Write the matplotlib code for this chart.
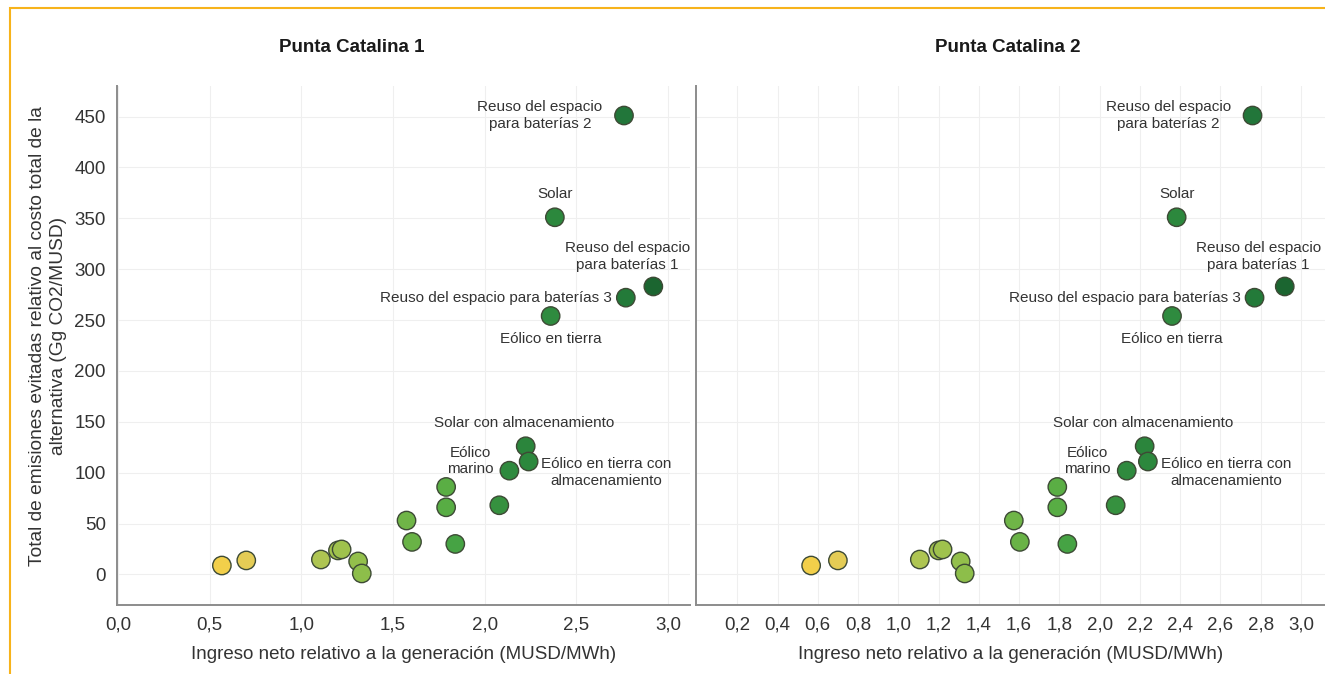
import matplotlib
matplotlib.use("Agg")
import numpy as np
from matplotlib import pyplot as plt
from matplotlib.patches import Rectangle

plt.rcParams['font.family'] = ['Liberation Sans', 'DejaVu Sans']

# ingreso neto (MUSD/MWh) vs emisiones evitadas (Gg CO2/MUSD), one point per alternative
ingreso = [0.567, 0.70, 1.107, 1.20, 1.22, 1.31, 1.33, 1.574, 1.604, 1.79,
           1.79, 1.84, 2.08, 2.135, 2.224, 2.24, 2.36, 2.383, 2.76, 2.77, 2.92]
emisiones = [8.8, 13.8, 14.7, 23.6, 24.6, 12.8, 1.0, 53, 32, 86,
             66, 30, 68, 102, 126, 111, 254, 351, 451, 272, 283]
colores = ['#f2cf4a', '#e4cc55', '#aec552', '#a2c24e', '#9fc24d', '#93c04b', '#8dbe4a',
           '#6fb547', '#69b346', '#5aae44', '#58ad44', '#46a344', '#36913f', '#2f8a3e',
           '#2b853c', '#2c883d', '#2f8b3f', '#2c883d', '#22763a', '#237a39', '#1b6530']

# labelled alternatives: index into the arrays above
etiquetas = {
    18: "Reuso del espacio\npara baterías 2",
    17: "Solar",
    20: "Reuso del espacio\npara baterías 1",
    19: "Reuso del espacio para baterías 3",
    16: "Eólico en tierra",
    14: "Solar con almacenamiento",
    13: "Eólico\nmarino",
    15: "Eólico en tierra con\nalmacenamiento",
}
# text offsets in pixels and horizontal alignment
offsets = {
    18: (-84, 0, 'center'),
    17: (0, 23, 'center'),
    20: (-26, 30, 'center'),
    19: (-14, 0, 'right'),
    16: (0, -23, 'center'),
    14: (-2, 23, 'center'),
    13: (-39, 10, 'center'),
    15: (78, -11, 'center'),
}

titulos = ["Punta Catalina 1", "Punta Catalina 2"]
xticks_panel = [np.arange(0, 3.01, 0.5), np.arange(0.2, 3.01, 0.2)]
yticks = np.arange(0, 451, 50)

W, H = 1325, 674
fig = plt.figure(figsize=(W / 100, H / 100), dpi=100)
fig.patch.set_facecolor('white')

ax1 = fig.add_axes([117 / W, 1 - 605 / H, 573 / W, 519 / H])
ax2 = fig.add_axes([696 / W, 1 - 605 / H, (W - 696) / W, 519 / H])

for i, ax in enumerate([ax1, ax2]):
    ax.set_xlim(-0.005, 3.12)
    ax.set_ylim(-30, 480)
    ax.set_xticks(xticks_panel[i])
    ax.set_xticklabels([f"{t:.1f}".replace('.', ',') for t in xticks_panel[i]])
    ax.set_yticks(yticks)
    if i == 0:
        ax.set_yticklabels([str(t) for t in yticks])
    else:
        ax.set_yticklabels([])
    ax.grid(True, color='#efefef', lw=0.8)
    ax.set_axisbelow(True)
    for s in ['top', 'right']:
        ax.spines[s].set_visible(False)
    for s in ['left', 'bottom']:
        ax.spines[s].set_color('#8c8c8c')
        ax.spines[s].set_linewidth(1.4)
    ax.tick_params(length=0, labelsize=13.5, labelcolor='#333333', pad=8)
    ax.set_xlabel("Ingreso neto relativo a la generación (MUSD/MWh)",
                  fontsize=13.5, color='#333333', labelpad=9)

    ax.scatter(ingreso, emisiones, s=175, c=colores, edgecolors='#3d4a35',
               linewidths=1.0, zorder=3)

    for k, txt in etiquetas.items():
        dx, dy, ha = offsets[k]
        ax.annotate(txt, (ingreso[k], emisiones[k]), xytext=(dx, dy),
                    textcoords='offset pixels', ha=ha, va='center',
                    multialignment='center', fontsize=11, color='#333333',
                    zorder=4)

fig.text(352 / W, 1 - 47 / H, titulos[0], ha='center', va='center',
         fontsize=13.5, fontweight='bold', color='#1a1a1a')
fig.text(1008 / W, 1 - 47 / H, titulos[1], ha='center', va='center',
         fontsize=13.5, fontweight='bold', color='#1a1a1a')

fig.text(48 / W, 1 - 336 / H,
         "Total de emisiones evitadas relativo al costo total de la\n"
         "alternativa (Gg CO2/MUSD)",
         rotation=90, ha='center', va='center', multialignment='center',
         fontsize=13.8, color='#333333', linespacing=1.3)

# frame around the figure
fig.patches.append(Rectangle((10 / W, -0.05), 1.2, 1 - 8 / H + 0.05,
                             transform=fig.transFigure, fill=False,
                             edgecolor='#f7b31b', lw=1.5))

fig.savefig("out.png", dpi=100)
